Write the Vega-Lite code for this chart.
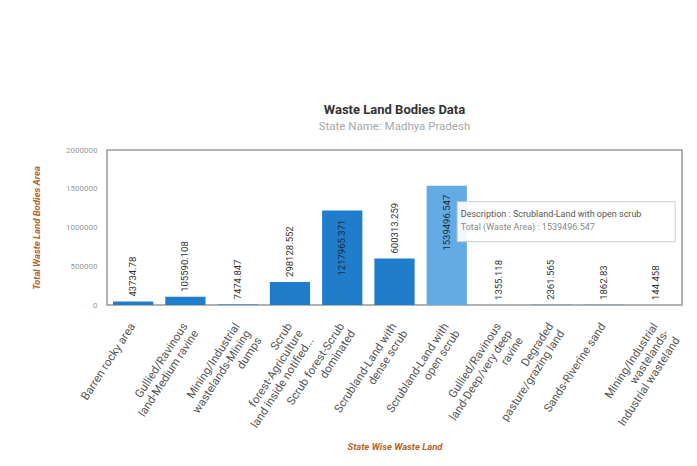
{
  "$schema": "https://vega.github.io/schema/vega-lite/v6.json",
  "width": 575,
  "height": 155,
  "autosize": "none",
  "padding": {"left": 107, "top": 150, "right": 15, "bottom": 161},
  "background": "white",
  "title": {
    "text": "Waste Land Bodies Data",
    "subtitle": "State Name: Madhya Pradesh",
    "anchor": "middle",
    "font": "Roboto",
    "fontSize": 13,
    "fontWeight": "bold",
    "color": "#333333",
    "subtitleFont": "Roboto",
    "subtitleFontSize": 11.5,
    "subtitleColor": "#a8a8a8",
    "subtitlePadding": 4,
    "offset": 14
  },
  "config": {
    "font": "Roboto",
    "view": {"stroke": "#999999", "strokeWidth": 1.5}
  },
  "data": {
    "values": [
      {"category": "Barren rocky area", "area": 43734.78},
      {"category": "Gullied/Ravinous land-Medium ravine", "area": 105590.108},
      {"category": "Mining/Industrial wastelands-Mining dumps", "area": 7474.847},
      {"category": "Scrub forest-Agriculture land inside notified forest", "area": 298128.552},
      {"category": "Scrub forest-Scrub dominated", "area": 1217965.371},
      {"category": "Scrubland-Land with dense scrub", "area": 600313.259},
      {"category": "Scrubland-Land with open scrub", "area": 1539496.547},
      {"category": "Gullied/Ravinous land-Deep/very deep ravine", "area": 1355.118},
      {"category": "Degraded pasture/grazing land", "area": 2361.565},
      {"category": "Sands-Riverine sand", "area": 1862.83},
      {"category": "Mining/Industrial wastelands-Industrial wasteland", "area": 144.458}
    ]
  },
  "encoding": {
    "x": {
      "field": "category",
      "type": "nominal",
      "sort": null,
      "scale": {"paddingInner": 0.23, "paddingOuter": 0.115},
      "axis": {
        "title": "State Wise Waste Land",
        "titleFont": "Roboto",
        "titleFontSize": 9.5,
        "titleFontStyle": "italic",
        "titleFontWeight": "bold",
        "titleColor": "#b5652b",
        "titleX": 287.5,
        "titleY": 136,
        "domain": false,
        "ticks": false,
        "labelAngle": -57,
        "labelFontSize": 11.5,
        "labelColor": "#555555",
        "labelLineHeight": 13,
        "labelPadding": 19,
        "labelLimit": 200,
        "labelExpr": "({'Barren rocky area': ['Barren rocky area'], 'Gullied/Ravinous land-Medium ravine': ['Gullied/Ravinous', 'land-Medium ravine'], 'Mining/Industrial wastelands-Mining dumps': ['Mining/Industrial', 'wastelands-Mining', 'dumps'], 'Scrub forest-Agriculture land inside notified forest': ['Scrub', 'forest-Agriculture', 'land inside notified...'], 'Scrub forest-Scrub dominated': ['Scrub forest-Scrub', 'dominated'], 'Scrubland-Land with dense scrub': ['Scrubland-Land with', 'dense scrub'], 'Scrubland-Land with open scrub': ['Scrubland-Land with', 'open scrub'], 'Gullied/Ravinous land-Deep/very deep ravine': ['Gullied/Ravinous', 'land-Deep/very deep', 'ravine'], 'Degraded pasture/grazing land': ['Degraded', 'pasture/grazing land'], 'Sands-Riverine sand': ['Sands-Riverine sand'], 'Mining/Industrial wastelands-Industrial wasteland': ['Mining/Industrial', 'wastelands-', 'Industrial wasteland']})[datum.value]"
      }
    },
    "y": {
      "field": "area",
      "type": "quantitative",
      "scale": {"domain": [0, 2000000], "nice": false},
      "axis": {
        "title": "Total Waste Land Bodies Area",
        "titleFont": "Roboto",
        "titleFontSize": 9.5,
        "titleFontStyle": "italic",
        "titleFontWeight": "bold",
        "titleColor": "#b5652b",
        "titleX": -66,
        "titleY": 77.5,
        "values": [0, 500000, 1000000, 1500000, 2000000],
        "format": "d",
        "grid": false,
        "domain": false,
        "ticks": false,
        "labelPadding": 10,
        "labelFontSize": 8,
        "labelColor": "#999999"
      }
    }
  },
  "layer": [
    {
      "mark": {"type": "bar"},
      "encoding": {
        "color": {
          "condition": {"test": "datum.category === 'Scrubland-Land with open scrub'", "value": "#64aae4"},
          "value": "#1f7dcc"
        }
      }
    },
    {
      "transform": [{"filter": "datum.area < 1000000"}],
      "mark": {"type": "text", "angle": 270, "align": "left", "baseline": "middle", "dx": 5, "fontSize": 9.5, "color": "#333333"},
      "encoding": {"text": {"field": "area", "type": "nominal"}}
    },
    {
      "transform": [{"filter": "datum.area >= 1000000"}],
      "mark": {"type": "text", "angle": 270, "align": "right", "baseline": "middle", "dx": -9, "fontSize": 9.5, "color": "#1b2a3a"},
      "encoding": {"text": {"field": "area", "type": "nominal"}}
    },
    {
      "transform": [{"filter": "datum.category === 'Scrubland-Land with open scrub'"}],
      "mark": {"type": "point", "shape": "M0.104,0.16H2.284V0.56H0.104Z", "size": 40000, "filled": true, "fill": "#ffffff", "fillOpacity": 0.92, "stroke": "#cccccc", "strokeWidth": 1, "opacity": 1},
      "encoding": {}
    },
    {
      "transform": [{"filter": "datum.category === 'Scrubland-Land with open scrub'"}],
      "mark": {"type": "text", "align": "left", "baseline": "middle", "dx": 14, "dy": 28, "fontSize": 9, "color": "#555555"},
      "encoding": {"text": {"value": "Description : Scrubland-Land with open scrub"}}
    },
    {
      "transform": [{"filter": "datum.category === 'Scrubland-Land with open scrub'"}],
      "mark": {"type": "text", "align": "left", "baseline": "middle", "dx": 14, "dy": 41, "fontSize": 9, "color": "#888888"},
      "encoding": {"text": {"value": "Total (Waste Area) : 1539496.547"}}
    }
  ]
}
